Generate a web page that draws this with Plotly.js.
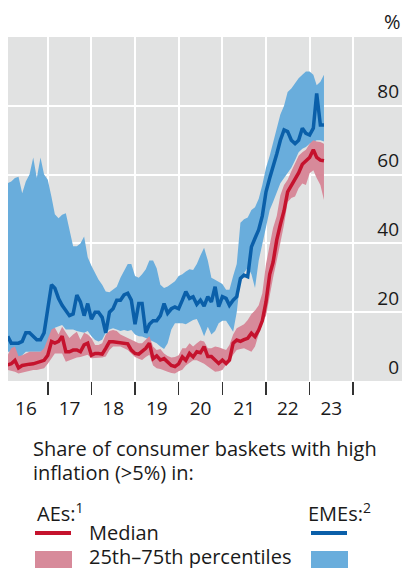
<!DOCTYPE html>
<html>
<head>
<meta charset="utf-8">
<script src="https://cdn.plot.ly/plotly-3.0.1.min.js"></script>
<style>
  html, body { margin: 0; padding: 0; background: #fff; }
  #chart { width: 402px; height: 568px; }
</style>
</head>
<body>
<div id="chart"></div>
<script>
// monthly, Feb 2016 .. May 2023
const firstMonth = [2016, 2];
const yearLabels = ['16', '17', '18', '19', '20', '21', '22', '23'];
const yTicks = [0, 20, 40, 60, 80];

const emeMedian = [
    13, 11, 11, 11, 11.5, 14, 14, 13, 12, 12,
    14, 21, 28, 27, 24, 22, 20.5, 19, 19.5, 25,
    23, 19, 22.5, 18, 20, 20, 18.5, 14, 20, 21,
    23.5, 23.5, 25, 25.5, 23.5, 16.5, 22.5, 22.5, 14, 16.5,
    17.5, 17.5, 19, 22.5, 19.7, 21, 21.5, 21, 23.5, 26,
    24, 24.5, 22.3, 23.5, 21.8, 24.5, 23, 27.4, 21.6, 24.5,
    24, 22, 23.5, 24.5, 29.8, 30.8, 30.3, 39, 41.5, 44,
    48, 55, 59, 62, 66, 70, 73, 72.5, 70, 69,
    70, 73.5, 72, 71.5, 73.5, 83.6, 74.4, 74.4
];
const emeHigh = [
    57.5, 58, 59, 59.4, 54.6, 58, 60, 65, 59, 65,
    60, 58.5, 53.5, 48.5, 47.3, 48.3, 48.8, 44, 39.2, 39.2,
    40, 42, 36, 33.5, 31.4, 29.5, 28, 26, 25.8, 26.5,
    27.4, 30, 32, 34, 34, 30.5, 30, 31, 32.5, 35,
    35, 32.8, 28, 27, 27.5, 28.3, 29, 30.5, 31, 31.8,
    32.5, 32.3, 34, 36.5, 38.7, 35, 30, 29.4, 28.7, 28.2,
    26.5, 26.5, 30.5, 34, 46, 47, 47.5, 49.7, 50.5, 53,
    57, 62, 65.5, 69.5, 74, 77.5, 80, 84, 85, 86.5,
    88, 89, 90, 90, 89, 86, 87, 89
];
const emeLow = [
    8.5, 8.5, 7.8, 6.5, 7.5, 8.5, 8.5, 8.5, 8.5, 8.5,
    8.5, 11, 14.3, 15.5, 16, 16.3, 15, 15, 15, 14.5,
    14.3, 14, 14.5, 13, 11.9, 11.5, 12, 14, 15, 15.3,
    15, 14.5, 14.8, 14.5, 14.8, 13.5, 13, 12.9, 12.5, 12,
    11.5, 11, 10, 9.3, 11, 15, 16.8, 16.8, 16.8, 16.5,
    17.2, 17.7, 18, 15.8, 13, 15.8, 13.5, 14.5, 16.8, 17.5,
    17.5, 15.8, 14.3, 20, 29.4, 31.4, 33, 31, 27, 35,
    40, 44.5, 49.7, 52, 55, 57.5, 59, 60.5, 62, 64.2,
    66.5, 67.5, 68, 69, 69.6, 70, 70, 69.6
];
const aeMedian = [
    4.7, 5, 6, 3.8, 4.5, 4.8, 4.9, 5, 5.3, 5.6,
    6, 7.5, 11.5, 11, 11.5, 13, 8.5, 8.5, 9, 9,
    8.5, 10.5, 11, 7.5, 8, 8, 7.8, 9.5, 11.4, 11.4,
    11.2, 11, 11, 10.8, 9, 8, 7.8, 8.5, 9.5, 11,
    6.5, 7.3, 6.1, 6.5, 5.6, 4.5, 4.2, 5, 7, 6,
    8, 7, 8.5, 8.2, 10, 7.1, 7.1, 6.1, 5.1, 6.1,
    5.1, 6.1, 11, 11.9, 11.5, 12, 12.4, 13.9, 12.9, 14.8,
    17.5, 23, 31, 34.5, 41, 45.5, 49.5, 55, 57, 58.5,
    60.5, 63, 64, 65, 67.2, 65, 64.2, 64
];
const aeHigh = [
    7.6, 9.5, 10, 7.2, 7.5, 8, 8.5, 8.5, 8.5, 8.5,
    9.5, 12.5, 15, 15.5, 13.5, 15.8, 14, 12.5, 13.5, 14.3,
    12, 14, 13.5, 12.5, 10.5, 10.5, 11, 13.5, 14.5, 14.8,
    14.5, 13.5, 13, 12.5, 12, 11.5, 11, 11, 12, 13,
    10, 9, 9.3, 8, 7.3, 6.8, 7, 7.5, 9.5, 9.5,
    11, 10, 11, 11.8, 11.5, 9.5, 9.5, 10, 9.8, 9.5,
    9, 10.5, 13.5, 15.3, 15.8, 16.5, 17.7, 19.5, 20.5, 22,
    25.5, 34, 39.5, 44.5, 48, 54, 57, 58.5, 61, 63.5,
    65.5, 66.5, 67.2, 69, 70, 69.6, 69.5, 69
];
const aeLow = [
    3.2, 3, 2.7, 2.2, 2.5, 2.8, 3, 3.2, 3.2, 3.4,
    3.7, 5, 6.5, 8, 8, 8, 5.6, 6, 6.6, 6.8,
    7, 7.3, 7.6, 6.6, 6.6, 6.6, 6.8, 7.1, 9, 10,
    10, 10, 9.5, 9, 8, 7, 6.5, 6.1, 7, 7.6,
    4.5, 3.7, 3.5, 3.2, 2.7, 2.3, 2.2, 2.8, 3.3, 4.5,
    5.3, 6, 6, 5.6, 5, 4.2, 3.5, 2.7, 2.8, 3.2,
    4.7, 5.5, 7.6, 9, 9.3, 9.5, 9, 8.5, 10, 13.5,
    17, 19, 25, 30, 35, 40, 45.5, 52, 53.2, 53.6,
    56, 57.4, 57, 60.4, 61.3, 59, 57, 52.6
];

const months = emeMedian.map((v, i) => {
    const d = new Date(Date.UTC(firstMonth[0], firstMonth[1] - 1 + i, 1));
    return d.toISOString().slice(0, 10);
});
const years = yearLabels.map(s => 2000 + Number(s));
const yearStarts = years.map(y => (y + 1) + '-01-01');
const yearMids = years.map(y => y + '-07-02');

const blue = '#0a5fa9', blueBand = '#69addc';
const red = '#c5122d', redBand = '#d78a9a';
const xRange = ['2016-02-03', '2025-02-12'];
const yRange = [0, 100];
// labels sit above their gridlines: a label axis offset by ~14px
const labelLift = 14 / 344 * 100;

function band(lo, hi, color) {
    return [
        {x: months, y: lo, type: 'scatter', mode: 'lines', line: {width: 0}, hoverinfo: 'skip'},
        {x: months, y: hi, type: 'scatter', mode: 'lines', line: {width: 0},
         fill: 'tonexty', fillcolor: color, hoverinfo: 'skip'}
    ];
}

let data = [
    ...band(emeLow, emeHigh, blueBand),
    ...band(aeLow, aeHigh, redBand),
    {x: months, y: emeMedian, xaxis: 'x2', type: 'scatter', mode: 'lines', line: {color: blue, width: 3.5}},
    {x: months, y: aeMedian, xaxis: 'x2', type: 'scatter', mode: 'lines', line: {color: red, width: 3.5}},
    {x: [], y: [], yaxis: 'y2', type: 'scatter', mode: 'lines', hoverinfo: 'skip'}
];

// pixel helpers for the legend block under the plot
const L = 8, T = 37, W = 394, H = 344;
const px = x => (x - L) / W;
const py = y => (T + H - y) / H;

function label(text, x, y, anchor) {
    return {text: text, x: px(x), y: py(y), xref: 'paper', yref: 'paper',
            xanchor: anchor || 'left', yanchor: 'middle', showarrow: false,
            font: {size: 20, color: '#1a1a1a'}};
}

let layout = {
    width: 402,
    height: 568,
    margin: {l: L, r: 0, t: T, b: 568 - T - H},
    paper_bgcolor: '#ffffff',
    plot_bgcolor: '#e1e2e2',
    font: {family: 'Open Sans, sans-serif', size: 19, color: '#1a1a1a'},
    showlegend: false,
    xaxis: {
        type: 'date', range: xRange,
        tickvals: yearStarts, showticklabels: false,
        ticks: 'outside', ticklen: 13, tickwidth: 1.5, tickcolor: '#333',
        showgrid: true, gridcolor: '#ffffff', gridwidth: 2,
        zeroline: false, showline: false, fixedrange: true
    },
    xaxis2: {
        type: 'date', range: xRange, overlaying: 'x', anchor: 'y',
        tickvals: yearMids, ticktext: yearLabels,
        ticks: '', showgrid: false, zeroline: false, showline: false,
        ticklabelstandoff: 14, fixedrange: true
    },
    yaxis: {
        range: yRange, side: 'right',
        tickvals: yTicks, showticklabels: false, ticks: '',
        showgrid: true, gridcolor: '#ffffff', gridwidth: 2,
        zeroline: false, showline: false, fixedrange: true
    },
    yaxis2: {
        range: [yRange[0] - labelLift, yRange[1] - labelLift],
        overlaying: 'y', anchor: 'x', side: 'right',
        tickvals: yTicks, ticks: '',
        ticklabelposition: 'inside', ticklabelstandoff: 0,
        tickfont: {size: 19, color: '#1a1a1a'},
        showgrid: false, zeroline: false, showline: false, fixedrange: true
    },
    annotations: [
        label('%', 392, 22, 'center'),
        label('Share of consumer baskets with high', 31, 448),
        label('inflation (>5%) in:', 31, 472),
        label('AEs:<sup>1</sup>', 35, 512),
        label('EMEs:<sup>2</sup>', 306, 512),
        label('Median', 87, 532),
        label('25th\u201375th percentiles', 87, 556)
    ],
    shapes: [
        {type: 'line', xref: 'paper', yref: 'paper', x0: px(35), x1: px(71), y0: py(533), y1: py(533),
         line: {color: red, width: 4}},
        {type: 'line', xref: 'paper', yref: 'paper', x0: px(311), x1: px(347), y0: py(533), y1: py(533),
         line: {color: blue, width: 4}},
        {type: 'rect', xref: 'paper', yref: 'paper', x0: px(35), x1: px(72), y0: py(551), y1: py(570),
         fillcolor: redBand, line: {width: 0}},
        {type: 'rect', xref: 'paper', yref: 'paper', x0: px(311), x1: px(348), y0: py(551), y1: py(570),
         fillcolor: blueBand, line: {width: 0}}
    ]
};

let config = {displayModeBar: false, staticPlot: true};

Plotly.newPlot('chart', data, layout, config);
</script>
</body>
</html>
